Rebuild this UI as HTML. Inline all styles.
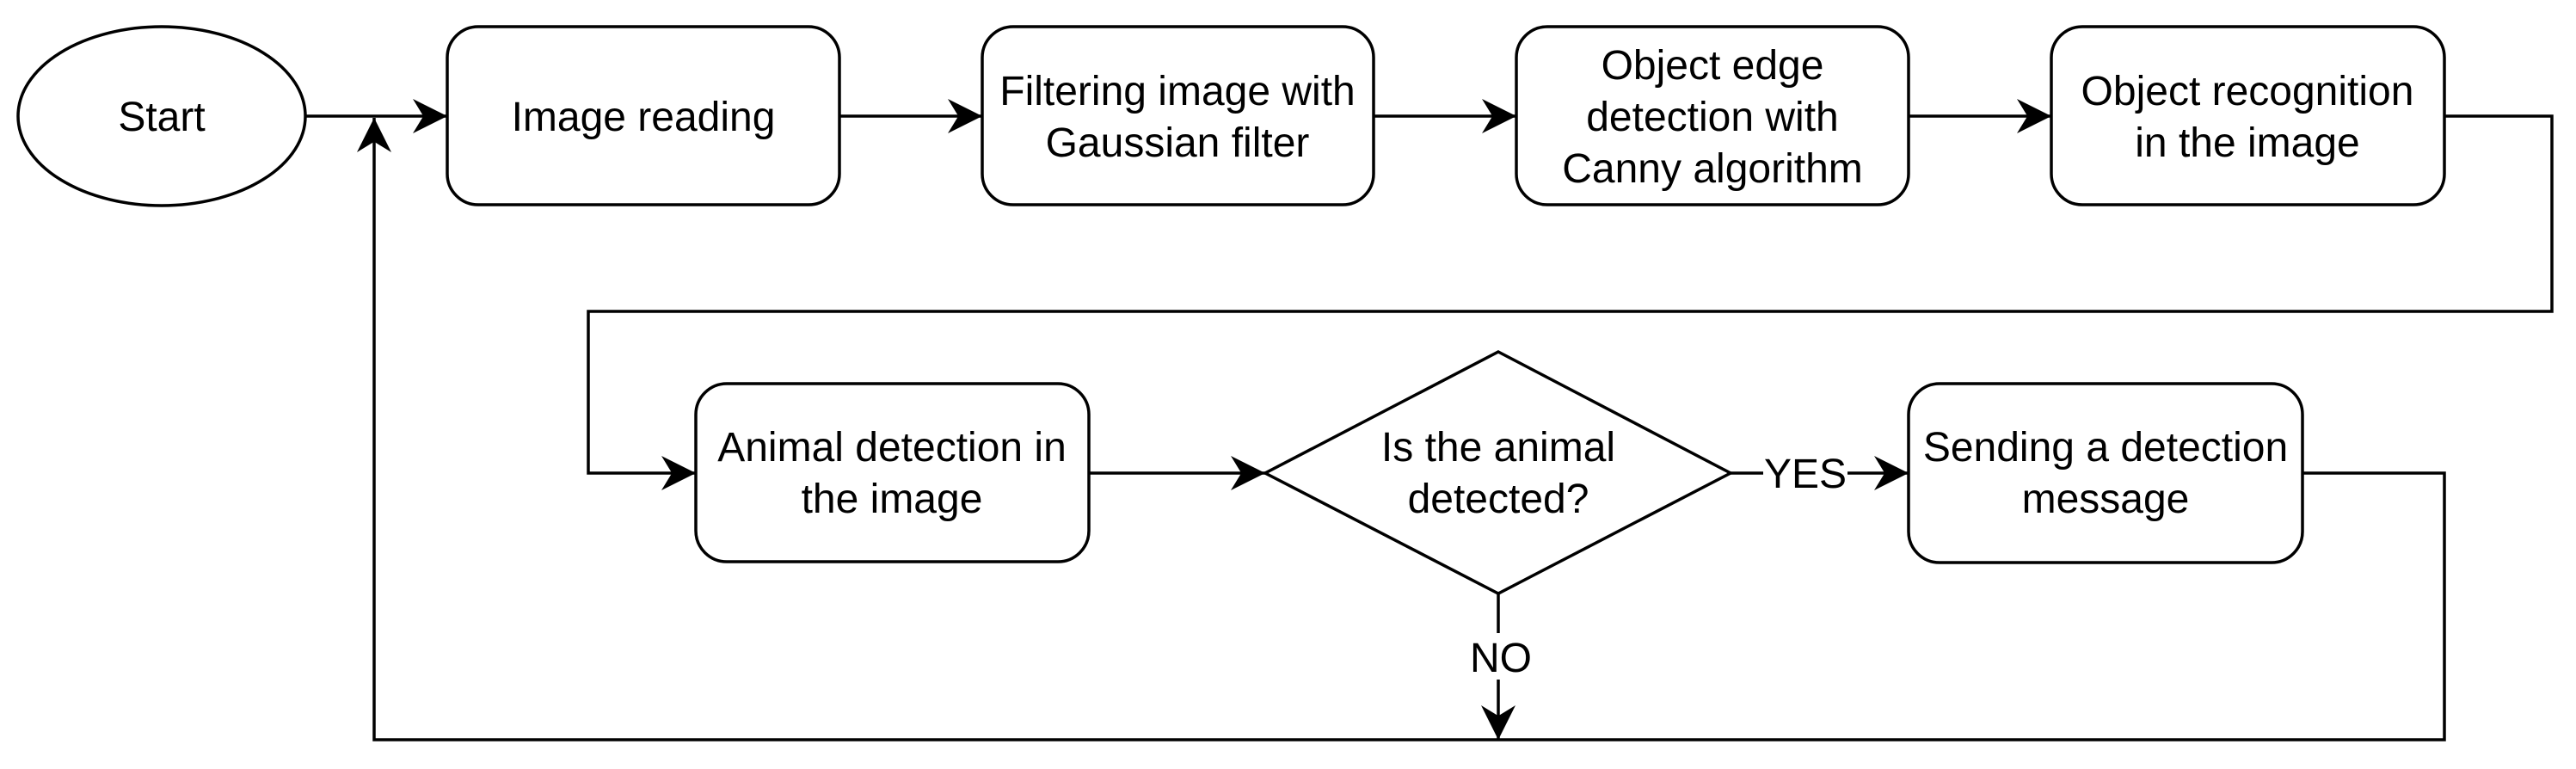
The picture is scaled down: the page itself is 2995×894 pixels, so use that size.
<!DOCTYPE html>
<html><head><meta charset="utf-8"><style>
html,body{margin:0;padding:0;background:#fff;}
svg{display:block;}
text{font-family:"Liberation Sans",Arial,sans-serif;font-size:48px;fill:#000;text-anchor:middle;}
</style></head><body>
<svg width="2995" height="894" viewBox="0 0 2995 894" xmlns="http://www.w3.org/2000/svg">
<defs>
<marker id="a" markerUnits="userSpaceOnUse" markerWidth="40" markerHeight="40" viewBox="0 0 36 36" refX="36" refY="18" orient="auto">
<path d="M0,0 L36,18 L0,36 L11,18 Z" fill="#000"/>
</marker>
</defs>
<g fill="none" stroke="#000" stroke-width="3.5">
<ellipse cx="188" cy="135" rx="167" ry="104" fill="#fff"/>
<rect x="520" y="31" width="456" height="207" rx="36" fill="#fff"/>
<rect x="1142" y="31" width="455" height="207" rx="36" fill="#fff"/>
<rect x="1763" y="31" width="456" height="207" rx="36" fill="#fff"/>
<rect x="2385" y="31" width="457" height="207" rx="36" fill="#fff"/>
<rect x="809" y="446" width="457" height="207" rx="36" fill="#fff"/>
<polygon points="1742,409 2012,550 1742,690 1471,550" fill="#fff"/>
<rect x="2219" y="446" width="458" height="208" rx="36" fill="#fff"/>
<line x1="355" y1="135" x2="520" y2="135" marker-end="url(#a)"/>
<line x1="976" y1="135" x2="1142" y2="135" marker-end="url(#a)"/>
<line x1="1597" y1="135" x2="1763" y2="135" marker-end="url(#a)"/>
<line x1="2219" y1="135" x2="2385" y2="135" marker-end="url(#a)"/>
<polyline points="2842,135 2967,135 2967,362 684,362 684,550 809,550" marker-end="url(#a)"/>
<line x1="1266" y1="550" x2="1471" y2="550" marker-end="url(#a)"/>
<line x1="2012" y1="550" x2="2050" y2="550"/>
<line x1="2148" y1="550" x2="2219" y2="550" marker-end="url(#a)"/>
<line x1="1742" y1="690" x2="1742" y2="736"/>
<line x1="1742" y1="790" x2="1742" y2="860" marker-end="url(#a)"/>
<polyline points="2677,550 2842,550 2842,860 435,860 435,137" marker-end="url(#a)"/>
</g>
<text x="188" y="152">Start</text>
<text x="748" y="152">Image reading</text>
<text x="1369" y="122">Filtering image with</text>
<text x="1369" y="182">Gaussian filter</text>
<text x="1991" y="92">Object edge</text>
<text x="1991" y="152">detection with</text>
<text x="1991" y="212">Canny algorithm</text>
<text x="2613" y="122">Object recognition</text>
<text x="2613" y="182">in the image</text>
<text x="1037" y="536">Animal detection in</text>
<text x="1037" y="596">the image</text>
<text x="1742" y="536">Is the animal</text>
<text x="1742" y="596">detected?</text>
<text x="2448" y="536">Sending a detection</text>
<text x="2448" y="596">message</text>
<text x="2099" y="567">YES</text>
<text x="1745" y="781">NO</text>
</svg>
</body></html>
